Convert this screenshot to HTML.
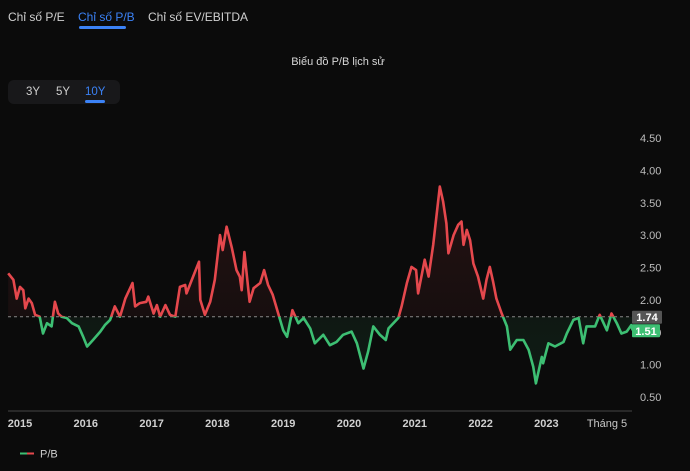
<!DOCTYPE html>
<html><head><meta charset="utf-8">
<style>
html,body{margin:0;padding:0;background:#0b0b0b;}
body{width:690px;height:471px;overflow:hidden;position:relative;font-family:"Liberation Sans","Noto Sans CJK SC",sans-serif;color:#d6d6d6;}
.tab{position:absolute;top:10px;font-size:12px;color:#d0d0d0;}
.tab.active{color:#3b82f6;}
.uline{position:absolute;height:3px;border-radius:2px;background:#3b82f6;}
#title{position:absolute;top:56px;left:0;width:676px;text-align:center;font-size:11px;color:#d8d8d8;}
#range{position:absolute;left:8px;top:80px;width:112px;height:24px;background:#18181a;border-radius:6px;}
.rb{position:absolute;top:6px;font-size:11.5px;color:#cfcfcf;}
.rb.active{color:#3b82f6;}
svg{position:absolute;left:0;top:0;}
</style></head><body>
<div class="tab" style="left:8px">Chỉ số P/E</div>
<div class="tab active" style="left:78px">Chỉ số P/B</div>
<div class="uline" style="left:79px;top:26px;width:47px"></div>
<div class="tab" style="left:148px">Chỉ số EV/EBITDA</div>
<div id="title">Biểu đồ P/B lịch sử</div>
<div id="range">
  <div class="rb" style="left:18px">3Y</div>
  <div class="rb" style="left:48px">5Y</div>
  <div class="rb active" style="left:77px">10Y</div>
  <div class="uline" style="left:77px;top:20px;width:20px"></div>
</div>
<svg id="chart" width="690" height="471"></svg>
<script>
const dates=[2014.82,2014.90,2014.95,2015.00,2015.05,2015.08,2015.13,2015.18,2015.23,2015.30,2015.35,2015.41,2015.48,2015.53,2015.58,2015.63,2015.71,2015.79,2015.89,2015.96,2016.02,2016.11,2016.22,2016.29,2016.37,2016.44,2016.52,2016.60,2016.71,2016.75,2016.82,2016.92,2016.95,2017.03,2017.08,2017.13,2017.21,2017.28,2017.36,2017.43,2017.51,2017.53,2017.63,2017.72,2017.74,2017.81,2017.89,2017.96,2018.04,2018.08,2018.14,2018.22,2018.29,2018.34,2018.37,2018.41,2018.49,2018.55,2018.65,2018.71,2018.77,2018.84,2018.93,2019.00,2019.06,2019.14,2019.23,2019.31,2019.41,2019.48,2019.56,
2019.61,2019.71,2019.81,2019.91,2020.04,2020.12,2020.22,2020.29,2020.37,2020.47,2020.56,2020.60,2020.75,2020.80,2020.88,2020.95,2021.02,2021.05,2021.15,2021.21,2021.28,2021.38,2021.43,2021.48,2021.51,2021.59,2021.66,2021.71,2021.74,2021.79,2021.84,2021.89,2021.96,2022.04,2022.09,2022.14,2022.19,2022.24,2022.32,2022.40,2022.45,2022.55,2022.65,2022.73,2022.80,2022.84,2022.93,2022.95,2023.03,2023.13,2023.26,2023.31,2023.41,2023.49,2023.56,2023.61,2023.74,2023.81,2023.92,2023.99,2024.07,2024.14,2024.22,2024.29,2024.31];
const values=[2.41,2.31,2.02,2.20,2.15,1.87,2.02,1.95,1.77,1.74,1.48,1.64,1.59,1.97,1.79,1.74,1.72,1.64,1.59,1.43,1.28,1.38,1.51,1.61,1.69,1.90,1.74,2.02,2.26,1.90,1.95,1.97,2.05,1.79,1.92,1.74,1.92,1.77,1.74,2.20,2.23,2.10,2.36,2.59,2.00,1.77,1.97,2.31,3.00,2.77,3.13,2.80,2.46,2.36,2.15,2.74,1.97,2.18,2.26,2.46,2.23,2.08,1.77,1.53,1.43,1.84,1.64,1.72,1.56,1.33,1.41,
1.46,1.30,1.35,1.46,1.51,1.33,0.94,1.20,1.59,1.46,1.38,1.56,1.72,1.90,2.26,2.51,2.46,2.10,2.62,2.36,2.85,3.75,3.52,3.18,2.72,3.00,3.16,3.21,2.85,3.08,2.92,2.56,2.36,2.02,2.31,2.51,2.28,2.02,1.79,1.59,1.23,1.38,1.38,1.23,0.97,0.71,1.12,1.02,1.33,1.28,1.35,1.48,1.69,1.72,1.33,1.59,1.59,1.77,1.53,1.79,1.64,1.48,1.51,1.61,1.53];
const yTicks=[0.5,1.0,1.5,2.0,2.5,3.0,3.5,4.0,4.5];
const yearTicks=[2015,2016,2017,2018,2019,2020,2021,2022,2023];
const refValue=1.74;
const lastLabel="1.51";
const NS="http://www.w3.org/2000/svg";
const svg=document.getElementById('chart');
function X(t){return 20+(t-2015)*65.8;}
function Y(v){return 138+(4.5-v)*64.75;}
function mk(tag,attrs){const e=document.createElementNS(NS,tag);for(const k in attrs)e.setAttribute(k,attrs[k]);svg.appendChild(e);return e;}
const defs=mk('defs',{});
defs.innerHTML='<clipPath id="above"><rect x="0" y="0" width="690" height="'+Y(refValue)+'"/></clipPath><clipPath id="below"><rect x="0" y="'+Y(refValue)+'" width="690" height="300"/></clipPath>'+
'<linearGradient id="gr" x1="0" y1="0" x2="0" y2="1"><stop offset="0" stop-color="#e5484d" stop-opacity="0.12"/><stop offset="1" stop-color="#e5484d" stop-opacity="0.02"/></linearGradient>'+
'<linearGradient id="gg" x1="0" y1="0" x2="0" y2="1"><stop offset="0" stop-color="#3dbf73" stop-opacity="0.02"/><stop offset="1" stop-color="#3dbf73" stop-opacity="0.1"/></linearGradient>';
let d='';dates.forEach((t,i)=>{d+=(i?'L':'M')+X(t).toFixed(1)+' '+Y(values[i]).toFixed(1);});
const x0=X(dates[0]),x1=X(dates[dates.length-1]),yr=Y(refValue);
const area=d+'L'+x1+' '+yr+'L'+x0+' '+yr+'Z';
let a1=mk('path',{d:area,fill:'url(#gr)','clip-path':'url(#above)'});

let a2=mk('path',{d:area,fill:'url(#gg)','clip-path':'url(#below)'});

let ref=mk('line',{x1:8,x2:632,y1:yr,y2:yr,stroke:'#888','stroke-width':1,'stroke-dasharray':'3,3'});

let l1=mk('path',{d:d,fill:'none',stroke:'#e5484d','stroke-width':2.6,'stroke-linejoin':'round','clip-path':'url(#above)'});

let l2=mk('path',{d:d,fill:'none',stroke:'#3dbf73','stroke-width':2.6,'stroke-linejoin':'round','clip-path':'url(#below)'});

let ax=mk('line',{x1:8,x2:632,y1:411,y2:411,stroke:'#444','stroke-width':1});

yTicks.forEach(v=>{const t=mk('text',{x:640,y:Y(v)+4,fill:'#bdbdbd','font-size':11});t.textContent=v.toFixed(2);
});
yearTicks.forEach(yv=>{const t=mk('text',{x:X(yv),y:427,fill:'#d0d0d0','font-size':11,'font-weight':'bold','text-anchor':'middle'});t.textContent=yv;
});
const tm=mk('text',{x:607,y:427,fill:'#c8c8c8','font-size':11,'text-anchor':'middle'});tm.textContent='Tháng 5';

const b1=mk('rect',{x:632,y:yr-6,width:30,height:13,fill:'#555',rx:1});

const bt1=mk('text',{x:647,y:yr+4.5,fill:'#fff','font-size':11,'font-weight':'bold','text-anchor':'middle'});bt1.textContent=refValue.toFixed(2);

const ly=Y(values[values.length-1]);
const b2=mk('rect',{x:632,y:ly-6,width:28,height:13,fill:'#3dbf73',rx:1});

const bt2=mk('text',{x:646,y:ly+4.5,fill:'#fff','font-size':11,'font-weight':'bold','text-anchor':'middle'});bt2.textContent=lastLabel;

const lg1=mk('line',{x1:20,x2:27,y1:453.5,y2:453.5,stroke:'#3dbf73','stroke-width':2});

const lg2=mk('line',{x1:27,x2:34,y1:453.5,y2:453.5,stroke:'#e5484d','stroke-width':2});

const lt=mk('text',{x:40,y:457.5,fill:'#cfcfcf','font-size':11});lt.textContent='P/B';

</script>
</body></html>
